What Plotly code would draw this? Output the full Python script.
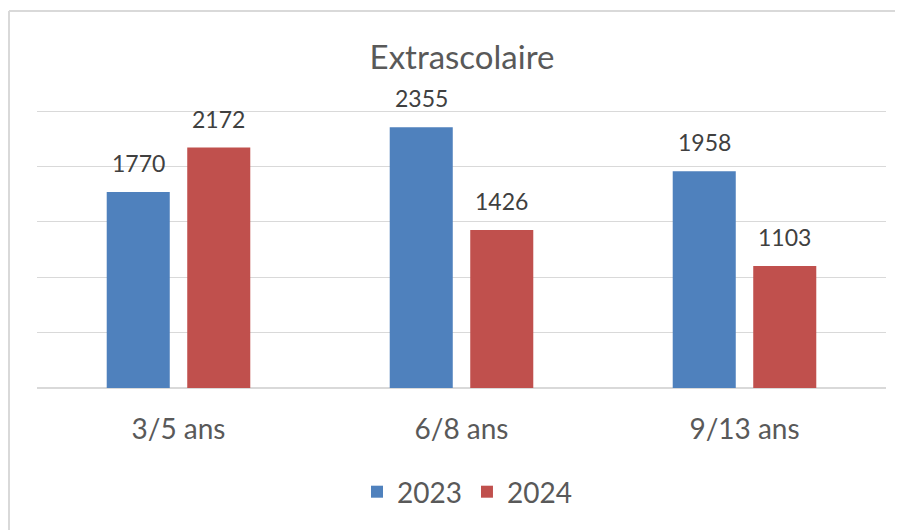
import plotly.graph_objects as go

categories = ["3/5 ans", "6/8 ans", "9/13 ans"]
values_2023 = [1770, 2355, 1958]
values_2024 = [2172, 1426, 1103]
series_names = ["2023", "2024"]
colors = ["#4F81BD", "#C0504D"]

FONT = "Lato"
W, H = 895, 522
Y_MAX = 2520
L, R, T, B = 29, 17, 101, 142
plot_w = W - L - R
plot_h = H - T - B
BARGAP = 0.431
BARGROUPGAP = 0.217

fig = go.Figure()
for name, vals, col in zip(series_names, [values_2023, values_2024], colors):
    fig.add_trace(go.Bar(
        x=categories, y=vals, name=name, marker_color=col,
        marker_line_width=0,
    ))

# data labels above bars
cat_w = plot_w / len(categories)
slot = cat_w * (1 - BARGAP) / 2
shifts = [-slot / 2, slot / 2]
for vals, sh in zip([values_2023, values_2024], shifts):
    for c, v in zip(categories, vals):
        fig.add_annotation(x=c, y=v, xref="x", yref="y", text=str(v), showarrow=False,
                           xshift=sh, yshift=13, yanchor="bottom",
                           font=dict(family=FONT, size=23, color="#404040"))

fig.update_layout(
    width=W, height=H,
    margin=dict(l=L, r=R, t=T, b=B),
    paper_bgcolor="white", plot_bgcolor="white",
    barmode="group", bargap=BARGAP, bargroupgap=BARGROUPGAP,
    title=dict(text="Extrascolaire", x=(462 - 8) / W, xanchor="center", y=1 - 49 / H, yanchor="middle",
               font=dict(family=FONT, size=33, color="#595959")),
    xaxis=dict(showgrid=False, showline=False, ticks="", ticklabelstandoff=22,
               tickfont=dict(family=FONT, size=28, color="#595959")),
    yaxis=dict(range=[0, Y_MAX], dtick=500, showticklabels=False, showgrid=True,
               gridcolor="#D9D9D9", gridwidth=1.3, zeroline=True, zerolinecolor="#D9D9D9", zerolinewidth=1.6),
    legend=dict(orientation="h", x=(467 - 8 - L) / plot_w, xanchor="center", y=-(484 - (H - B)) / plot_h,
                yanchor="middle",
                font=dict(family=FONT, size=28, color="#595959"), itemsizing="constant"),
    showlegend=True,
)
border_y = 1 + (T - 3) / plot_h
border_x = (1 - L) / plot_w
fig.add_shape(type="line", xref="paper", yref="paper", x0=border_x, x1=border_x,
              y0=-0.6, y1=border_y, line=dict(color="#D9D9D9", width=2))
fig.add_shape(type="line", xref="paper", yref="paper", x0=border_x, x1=1.1,
              y0=border_y, y1=border_y, line=dict(color="#D9D9D9", width=2))
fig.write_html("out.html")
